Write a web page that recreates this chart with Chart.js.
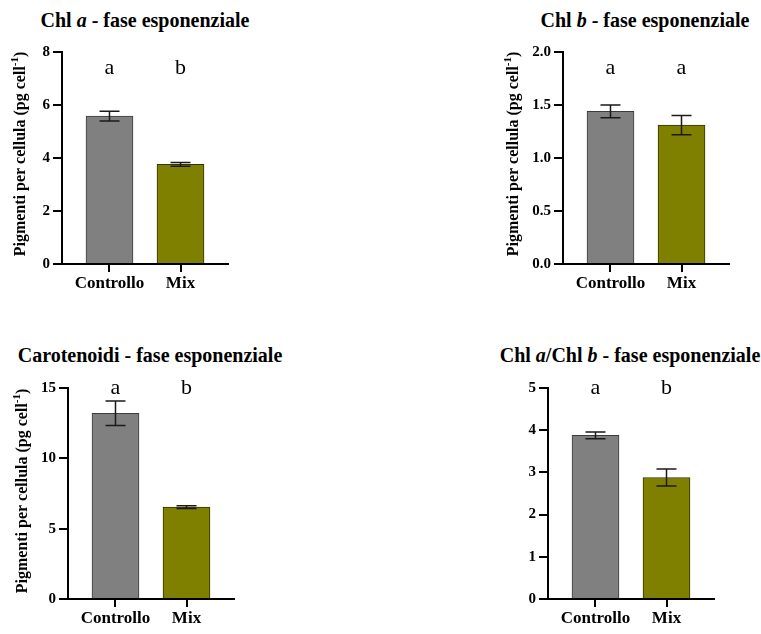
<!DOCTYPE html>
<html>
<head>
<meta charset="utf-8">
<script src="https://cdn.jsdelivr.net/npm/chart.js@4.4.0/dist/chart.umd.min.js"></script>
<style>
    body {
        margin: 0;
        background: #fff;
        width: 761px;
        height: 634px;
        position: relative;
        overflow: hidden;
        font-family: "Liberation Serif", "Times New Roman", serif;
    }
    .titolo {
        position: absolute;
        font-weight: bold;
        font-size: 20px;
        line-height: 1;
        white-space: nowrap;
        transform: translate(-50%, -50%);
        color: #000;
    }
    canvas { position: absolute; }
</style>
</head>
<body>
<script>
// dati
const categorie = ['Controllo', 'Mix'];

const chlA = [5.58, 3.76];
const chlAErr = [0.18, 0.07];
const lettereChlA = ['a', 'b'];
const tickChlA = [0, 2, 4, 6, 8];

const chlB = [1.44, 1.31];
const chlBErr = [0.06, 0.09];
const lettereChlB = ['a', 'a'];
const tickChlB = [0, 0.5, 1.0, 1.5, 2.0];

const carotenoidi = [13.2, 6.53];
const carotenoidiErr = [0.87, 0.1];
const lettereCarot = ['a', 'b'];
const tickCarot = [0, 5, 10, 15];

const rapportoAB = [3.88, 2.88];
const rapportoABErr = [0.08, 0.2];
const lettereRapporto = ['a', 'b'];
const tickRapporto = [0, 1, 2, 3, 4, 5];

const coloriBarre = ['#808080', '#808000'];
const bordiBarre = ['#3c3c3c', '#333300'];
const FONT = '"Liberation Serif", "Times New Roman", serif';

// layout dei quattro pannelli (coordinate della pagina)
const pannelli = [
    {
        titolo: 'Chl <i>a</i> - fase esponenziale', tx: 145, ty: 20,
        canvas: { x: 0, y: 30, w: 250, h: 270 },
        assi: { l: 62, r: 228, t: 52, b: 264 },
        xMin: 0.331, xMax: 2.669, yMax: 8, decimali: 0, yLettere: 7.4,
        valori: chlA, errori: chlAErr, lettere: lettereChlA, ticks: tickChlA,
        etichettaY: { x: 20, y: 154 }
    },
    {
        titolo: 'Chl <i>b</i> - fase esponenziale', tx: 645, ty: 20,
        canvas: { x: 490, y: 30, w: 271, h: 270 },
        assi: { l: 563, r: 729, t: 52, b: 264 },
        xMin: 0.331, xMax: 2.669, yMax: 2, decimali: 1, yLettere: 1.85,
        valori: chlB, errori: chlBErr, lettere: lettereChlB, ticks: tickChlB,
        etichettaY: { x: 513, y: 154 }
    },
    {
        titolo: 'Carotenoidi - fase esponenziale', tx: 150, ty: 355,
        canvas: { x: 0, y: 365, w: 260, h: 269 },
        assi: { l: 68, r: 234, t: 388, b: 599 },
        xMin: 0.331, xMax: 2.669, yMax: 15, decimali: 0, yLettere: 15,
        valori: carotenoidi, errori: carotenoidiErr, lettere: lettereCarot, ticks: tickCarot,
        etichettaY: { x: 22, y: 491 }
    },
    {
        titolo: 'Chl <i>a</i>/Chl <i>b</i> - fase esponenziale', tx: 630, ty: 355,
        canvas: { x: 490, y: 365, w: 271, h: 269 },
        assi: { l: 548, r: 714, t: 388, b: 599 },
        xMin: 0.331, xMax: 2.669, yMax: 5, decimali: 0, yLettere: 5,
        valori: rapportoAB, errori: rapportoABErr, lettere: lettereRapporto, ticks: tickRapporto,
        etichettaY: null
    }
];

function creaPluginExtra(p) {
    return {
        id: 'extra',
        afterDatasetsDraw(chart) {
            const ctx = chart.ctx;
            const x = chart.scales.x;
            const y = chart.scales.y;

            // barre di errore
            ctx.save();
            ctx.strokeStyle = '#1a1a1a';
            ctx.lineWidth = 1.5;
            p.valori.forEach((v, i) => {
                const cx = x.getPixelForValue(i + 1);
                const yTop = y.getPixelForValue(v + p.errori[i]);
                const yBot = y.getPixelForValue(v - p.errori[i]);
                ctx.beginPath();
                ctx.moveTo(cx, yTop);
                ctx.lineTo(cx, yBot);
                ctx.moveTo(cx - 10, yTop);
                ctx.lineTo(cx + 10, yTop);
                ctx.moveTo(cx - 10, yBot);
                ctx.lineTo(cx + 10, yBot);
                ctx.stroke();
            });

            // lettere di significatività
            ctx.fillStyle = '#000';
            ctx.font = '22px ' + FONT;
            ctx.textAlign = 'center';
            ctx.textBaseline = 'middle';
            p.lettere.forEach((l, i) => {
                ctx.fillText(l, x.getPixelForValue(i + 1), y.getPixelForValue(p.yLettere));
            });

            // titolo asse y con apice
            if (p.etichettaY) {
                const testo = 'Pigmenti per cellula (pg cell';
                const apice = '-1';
                const chiusa = ')';
                const fTesto = 'bold 16px ' + FONT;
                const fApice = 'bold 11px ' + FONT;
                ctx.translate(p.etichettaY.x - p.canvas.x, p.etichettaY.y - p.canvas.y);
                ctx.rotate(-Math.PI / 2);
                ctx.textAlign = 'left';
                ctx.textBaseline = 'alphabetic';
                ctx.font = fTesto;
                const w1 = ctx.measureText(testo).width;
                const w3 = ctx.measureText(chiusa).width;
                ctx.font = fApice;
                const w2 = ctx.measureText(apice).width;
                let pos = -(w1 + w2 + w3) / 2;
                ctx.font = fTesto;
                ctx.fillText(testo, pos, 5);
                pos += w1;
                ctx.font = fApice;
                ctx.fillText(apice, pos, -2);
                pos += w2;
                ctx.font = fTesto;
                ctx.fillText(chiusa, pos, 5);
            }
            ctx.restore();
        }
    };
}

function disegnaPannello(p) {
    const tit = document.createElement('div');
    tit.className = 'titolo';
    tit.innerHTML = p.titolo;
    tit.style.left = p.tx + 'px';
    tit.style.top = p.ty + 'px';
    document.body.appendChild(tit);

    const canvas = document.createElement('canvas');
    canvas.width = p.canvas.w;
    canvas.height = p.canvas.h;
    canvas.style.left = p.canvas.x + 'px';
    canvas.style.top = p.canvas.y + 'px';
    document.body.appendChild(canvas);

    return new Chart(canvas, {
        type: 'bar',
        data: {
            datasets: [{
                data: p.valori.map((v, i) => ({ x: i + 1, y: v })),
                backgroundColor: coloriBarre,
                borderColor: bordiBarre,
                borderWidth: 1,
                barThickness: 47
            }]
        },
        options: {
            responsive: false,
            animation: false,
            devicePixelRatio: 1,
            layout: {
                padding: {
                    top: p.assi.t - p.canvas.y,
                    right: p.canvas.x + p.canvas.w - p.assi.r,
                    left: 0,
                    bottom: 0
                }
            },
            plugins: {
                legend: { display: false },
                tooltip: { enabled: false }
            },
            scales: {
                x: {
                    type: 'linear',
                    offset: false,
                    min: p.xMin,
                    max: p.xMax,
                    afterBuildTicks: s => { s.ticks = categorie.map((c, i) => ({ value: i + 1 })); },
                    afterFit: s => { s.height = p.canvas.y + p.canvas.h - p.assi.b; },
                    border: { color: '#000', width: 2 },
                    grid: { offset: false, drawOnChartArea: false, color: '#000', lineWidth: 2, tickLength: 8 },
                    ticks: {
                        color: '#000',
                        padding: 1,
                        maxRotation: 0,
                        autoSkip: false,
                        font: { family: FONT, weight: 'bold', size: 17 },
                        callback: v => categorie[Math.round(v) - 1]
                    }
                },
                y: {
                    min: 0,
                    max: p.yMax,
                    afterBuildTicks: s => { s.ticks = p.ticks.map(v => ({ value: v })); },
                    afterFit: s => { s.width = p.assi.l - p.canvas.x; },
                    border: { color: '#000', width: 2 },
                    grid: { drawOnChartArea: false, color: '#000', lineWidth: 2, tickLength: 9 },
                    ticks: {
                        color: '#000',
                        padding: 3,
                        font: { family: FONT, weight: 'bold', size: 15 },
                        callback: v => Number(v).toFixed(p.decimali)
                    }
                }
            }
        },
        plugins: [creaPluginExtra(p)]
    });
}

pannelli.forEach(disegnaPannello);
</script>
</body>
</html>
